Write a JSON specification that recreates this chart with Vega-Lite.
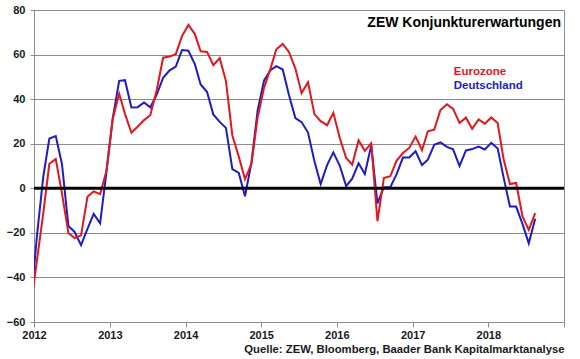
{
  "$schema": "https://vega.github.io/schema/vega-lite/v6.json",
  "width": 530,
  "height": 312,
  "padding": {"left": 6, "top": 4, "right": 5, "bottom": 0},
  "background": "white",
  "config": {
    "font": "Liberation Sans",
    "view": {"stroke": "#8c8c8c", "strokeWidth": 1}
  },
  "datasets": {
    "zew": [
      {"date": "2011-12-15", "Eurozone": -54.1, "Deutschland": -53.8},
      {"date": "2012-01-15", "Eurozone": -32.5, "Deutschland": -21.6},
      {"date": "2012-02-15", "Eurozone": -11.0, "Deutschland": 5.4},
      {"date": "2012-03-15", "Eurozone": 11.0, "Deutschland": 22.3},
      {"date": "2012-04-15", "Eurozone": 13.1, "Deutschland": 23.4},
      {"date": "2012-05-15", "Eurozone": -2.4, "Deutschland": 10.8},
      {"date": "2012-06-15", "Eurozone": -20.1, "Deutschland": -16.9},
      {"date": "2012-07-15", "Eurozone": -22.3, "Deutschland": -19.6},
      {"date": "2012-08-15", "Eurozone": -21.1, "Deutschland": -25.5},
      {"date": "2012-09-15", "Eurozone": -3.8, "Deutschland": -18.2},
      {"date": "2012-10-15", "Eurozone": -1.4, "Deutschland": -11.5},
      {"date": "2012-11-15", "Eurozone": -2.6, "Deutschland": -15.7},
      {"date": "2012-12-15", "Eurozone": 7.6, "Deutschland": 6.9},
      {"date": "2013-01-15", "Eurozone": 31.2, "Deutschland": 31.5},
      {"date": "2013-02-15", "Eurozone": 42.4, "Deutschland": 48.2},
      {"date": "2013-03-15", "Eurozone": 33.4, "Deutschland": 48.5},
      {"date": "2013-04-15", "Eurozone": 24.9, "Deutschland": 36.3},
      {"date": "2013-05-15", "Eurozone": 27.6, "Deutschland": 36.4},
      {"date": "2013-06-15", "Eurozone": 30.6, "Deutschland": 38.5},
      {"date": "2013-07-15", "Eurozone": 32.8, "Deutschland": 36.3},
      {"date": "2013-08-15", "Eurozone": 44.0, "Deutschland": 42.0},
      {"date": "2013-09-15", "Eurozone": 58.6, "Deutschland": 49.6},
      {"date": "2013-10-15", "Eurozone": 59.1, "Deutschland": 52.8},
      {"date": "2013-11-15", "Eurozone": 60.2, "Deutschland": 54.6},
      {"date": "2013-12-15", "Eurozone": 68.3, "Deutschland": 62.0},
      {"date": "2014-01-15", "Eurozone": 73.3, "Deutschland": 61.7},
      {"date": "2014-02-15", "Eurozone": 69.2, "Deutschland": 55.7},
      {"date": "2014-03-15", "Eurozone": 61.5, "Deutschland": 46.6},
      {"date": "2014-04-15", "Eurozone": 61.2, "Deutschland": 43.2},
      {"date": "2014-05-15", "Eurozone": 55.2, "Deutschland": 33.1},
      {"date": "2014-06-15", "Eurozone": 58.4, "Deutschland": 29.8},
      {"date": "2014-07-15", "Eurozone": 48.1, "Deutschland": 27.1},
      {"date": "2014-08-15", "Eurozone": 23.7, "Deutschland": 8.6},
      {"date": "2014-09-15", "Eurozone": 14.2, "Deutschland": 6.9},
      {"date": "2014-10-15", "Eurozone": 4.1, "Deutschland": -3.6},
      {"date": "2014-11-15", "Eurozone": 11.0, "Deutschland": 11.5},
      {"date": "2014-12-15", "Eurozone": 31.8, "Deutschland": 34.9},
      {"date": "2015-01-15", "Eurozone": 45.2, "Deutschland": 48.4},
      {"date": "2015-02-15", "Eurozone": 53.7, "Deutschland": 53.0},
      {"date": "2015-03-15", "Eurozone": 62.4, "Deutschland": 54.8},
      {"date": "2015-04-15", "Eurozone": 64.8, "Deutschland": 53.3},
      {"date": "2015-05-15", "Eurozone": 61.2, "Deutschland": 41.9},
      {"date": "2015-06-15", "Eurozone": 53.7, "Deutschland": 31.5},
      {"date": "2015-07-15", "Eurozone": 42.7, "Deutschland": 29.7},
      {"date": "2015-08-15", "Eurozone": 47.6, "Deutschland": 25.0},
      {"date": "2015-09-15", "Eurozone": 33.3, "Deutschland": 12.1},
      {"date": "2015-10-15", "Eurozone": 30.1, "Deutschland": 1.9},
      {"date": "2015-11-15", "Eurozone": 28.3, "Deutschland": 10.4},
      {"date": "2015-12-15", "Eurozone": 33.9, "Deutschland": 16.1},
      {"date": "2016-01-15", "Eurozone": 22.7, "Deutschland": 10.2},
      {"date": "2016-02-15", "Eurozone": 13.6, "Deutschland": 1.0},
      {"date": "2016-03-15", "Eurozone": 10.6, "Deutschland": 4.3},
      {"date": "2016-04-15", "Eurozone": 21.5, "Deutschland": 11.2},
      {"date": "2016-05-15", "Eurozone": 16.8, "Deutschland": 6.4},
      {"date": "2016-06-15", "Eurozone": 20.2, "Deutschland": 19.2},
      {"date": "2016-07-15", "Eurozone": -14.7, "Deutschland": -6.8},
      {"date": "2016-08-15", "Eurozone": 4.6, "Deutschland": 0.5},
      {"date": "2016-09-15", "Eurozone": 5.4, "Deutschland": 0.5},
      {"date": "2016-10-15", "Eurozone": 12.3, "Deutschland": 6.2},
      {"date": "2016-11-15", "Eurozone": 15.8, "Deutschland": 13.8},
      {"date": "2016-12-15", "Eurozone": 18.1, "Deutschland": 13.8},
      {"date": "2017-01-15", "Eurozone": 23.2, "Deutschland": 16.6},
      {"date": "2017-02-15", "Eurozone": 17.1, "Deutschland": 10.4},
      {"date": "2017-03-15", "Eurozone": 25.6, "Deutschland": 12.8},
      {"date": "2017-04-15", "Eurozone": 26.3, "Deutschland": 19.5},
      {"date": "2017-05-15", "Eurozone": 35.1, "Deutschland": 20.6},
      {"date": "2017-06-15", "Eurozone": 37.7, "Deutschland": 18.6},
      {"date": "2017-07-15", "Eurozone": 35.6, "Deutschland": 17.5},
      {"date": "2017-08-15", "Eurozone": 29.3, "Deutschland": 10.0},
      {"date": "2017-09-15", "Eurozone": 31.7, "Deutschland": 17.0},
      {"date": "2017-10-15", "Eurozone": 26.7, "Deutschland": 17.6},
      {"date": "2017-11-15", "Eurozone": 30.9, "Deutschland": 18.7},
      {"date": "2017-12-15", "Eurozone": 29.0, "Deutschland": 17.4},
      {"date": "2018-01-15", "Eurozone": 31.8, "Deutschland": 20.4},
      {"date": "2018-02-15", "Eurozone": 29.3, "Deutschland": 17.8},
      {"date": "2018-03-15", "Eurozone": 13.4, "Deutschland": 5.1},
      {"date": "2018-04-15", "Eurozone": 1.9, "Deutschland": -8.2},
      {"date": "2018-05-15", "Eurozone": 2.4, "Deutschland": -8.2},
      {"date": "2018-06-15", "Eurozone": -12.6, "Deutschland": -16.1},
      {"date": "2018-07-15", "Eurozone": -18.7, "Deutschland": -24.7},
      {"date": "2018-08-15", "Eurozone": -11.1, "Deutschland": -13.7}
    ],
    "one": [{"k": 1}]
  },
  "layer": [
    {
      "data": {"name": "zew"},
      "mark": {"type": "line", "color": "#1c1cc8", "strokeWidth": 2, "clip": true},
      "encoding": {
        "x": {
          "field": "date",
          "type": "temporal",
          "scale": {
            "type": "utc",
            "domain": [
              {"year": 2012, "month": 1, "date": 1, "utc": true},
              {"year": 2019, "month": 1, "date": 1, "utc": true}
            ]
          },
          "axis": {
            "values": [
              {"year": 2012, "month": 1, "date": 1, "utc": true},
              {"year": 2013, "month": 1, "date": 1, "utc": true},
              {"year": 2014, "month": 1, "date": 1, "utc": true},
              {"year": 2015, "month": 1, "date": 1, "utc": true},
              {"year": 2016, "month": 1, "date": 1, "utc": true},
              {"year": 2017, "month": 1, "date": 1, "utc": true},
              {"year": 2018, "month": 1, "date": 1, "utc": true},
              {"year": 2019, "month": 1, "date": 1, "utc": true}
            ],
            "labelExpr": "utcFormat(datum.value, '%Y') == '2019' ? '' : utcFormat(datum.value, '%Y')",
            "grid": false,
            "domainColor": "#8c8c8c",
            "tickColor": "#8c8c8c",
            "tickSize": 5,
            "labelPadding": 2,
            "labelFont": "Liberation Sans",
            "labelFontSize": 11,
            "labelFontWeight": "bold",
            "labelColor": "#1a1a1a",
            "labelOverlap": false,
            "labelBound": false,
            "labelFlush": false,
            "title": "Quelle: ZEW, Bloomberg, Baader Bank Kapitalmarktanalyse",
            "titleAnchor": "end",
            "titleFont": "Liberation Sans",
            "titleFontSize": 11.3,
            "titleFontWeight": "bold",
            "titleColor": "#1a1a1a",
            "titlePadding": 3
          }
        },
        "y": {
          "field": "Deutschland",
          "type": "quantitative",
          "scale": {"domain": [-60, 80], "nice": false, "zero": false},
          "axis": {
            "values": [-60, -40, -20, 0, 20, 40, 60, 80],
            "title": null,
            "grid": true,
            "gridColor": "#8c8c8c",
            "gridWidth": 1,
            "domainColor": "#8c8c8c",
            "tickColor": "#8c8c8c",
            "tickSize": 4,
            "labelPadding": 5,
            "labelFont": "Liberation Sans",
            "labelFontSize": 11,
            "labelFontWeight": "bold",
            "labelColor": "#1a1a1a"
          }
        }
      }
    },
    {
      "data": {"name": "zew"},
      "mark": {"type": "line", "color": "#e4161e", "strokeWidth": 2, "clip": true},
      "encoding": {
        "x": {"field": "date", "type": "temporal"},
        "y": {"field": "Eurozone", "type": "quantitative"}
      }
    },
    {
      "data": {"name": "one"},
      "mark": {"type": "rule", "color": "black", "strokeWidth": 3},
      "encoding": {"y": {"datum": 0}}
    },
    {
      "data": {"name": "one"},
      "mark": {"type": "text", "text": "ZEW Konjunkturerwartungen", "align": "right", "baseline": "middle", "dx": -3, "font": "Liberation Sans", "fontSize": 14, "fontWeight": "bold", "color": "black"},
      "encoding": {
        "x": {"datum": {"year": 2019, "month": 1, "date": 1, "utc": true}, "type": "temporal"},
        "y": {"datum": 74.3}
      }
    },
    {
      "data": {"name": "one"},
      "mark": {"type": "text", "text": "Eurozone", "align": "left", "baseline": "middle", "font": "Liberation Sans", "fontSize": 11.5, "fontWeight": "bold", "color": "#e4161e"},
      "encoding": {
        "x": {"datum": {"year": 2017, "month": 7, "date": 18, "utc": true}, "type": "temporal"},
        "y": {"datum": 52.3}
      }
    },
    {
      "data": {"name": "one"},
      "mark": {"type": "text", "text": "Deutschland", "align": "left", "baseline": "middle", "font": "Liberation Sans", "fontSize": 11.5, "fontWeight": "bold", "color": "#1c1cc8"},
      "encoding": {
        "x": {"datum": {"year": 2017, "month": 7, "date": 18, "utc": true}, "type": "temporal"},
        "y": {"datum": 45.9}
      }
    }
  ]
}
